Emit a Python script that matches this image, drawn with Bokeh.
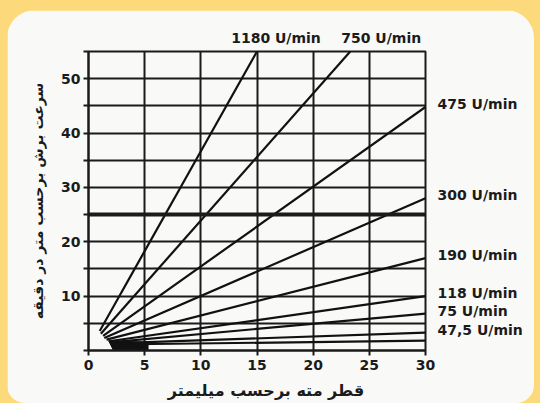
from bokeh.plotting import figure
from bokeh.layouts import column
from bokeh.models import (ColumnDataSource, FixedTicker, Span, LinearAxis)
from bokeh.embed import file_html
from bokeh.resources import INLINE

# ---- data ----
rpm_labels = ["1180 U/min", "750 U/min", "475 U/min", "300 U/min", "190 U/min",
              "118 U/min", "75 U/min", "47,5 U/min", ""]
x_start = [1.0, 1.1, 1.3, 1.4, 1.6, 1.8, 1.9, 2.0, 2.1]
y_start = [3.6, 3.1, 2.7, 2.3, 2.0, 1.7, 1.5, 1.3, 1.1]
x_end = [15.0, 23.3, 30.0, 30.0, 30.0, 30.0, 30.0, 30.0, 30.0]
y_end = [55.0, 55.0, 44.8, 28.0, 17.0, 10.0, 6.8, 3.3, 1.8]
blob_x = [1.8, 5.3, 5.3, 2.2]
blob_y = [1.8, 1.5, 0.1, 0.1]
x_ticks = [0, 5, 10, 15, 20, 25, 30]
y_ticks = [0, 5, 10, 15, 20, 25, 30, 35, 40, 45, 50, 55]
y_labelled = [10, 20, 30, 40, 50]
x_title = "قطر مته برحسب میلیمتر"
y_title = "سرعت برش برحسب متر در دقیقه"

INK = "#1b1b1b"
YELLOW = "#FCDA7C"
PANEL = "#F9F9F8"
FONT = "DejaVu Sans"

FRAME_W, FRAME_H = 337, 299
p = figure(width=527, height=393, x_range=(0, 30), y_range=(0, 55),
           output_backend="svg", toolbar_location=None,
           min_border_left=81, min_border_right=109,
           min_border_top=41, min_border_bottom=53)
p.styles = {"border-radius": "28px 28px 18px 18px", "overflow": "hidden"}
p.border_fill_color = PANEL
p.background_fill_color = PANEL
p.outline_line_color = INK
p.outline_line_width = 2

px_x = FRAME_W / 30.0   # pixels per data unit
px_y = FRAME_H / 55.0

def style_text_axis(ax, size="14px"):
    ax.axis_line_color = None
    ax.major_tick_line_color = None
    ax.minor_tick_line_color = None
    ax.major_tick_out = 0
    ax.major_tick_in = 0
    ax.major_label_text_font = FONT
    ax.major_label_text_font_style = "bold"
    ax.major_label_text_font_size = size
    ax.major_label_text_color = INK

# main axes
p.xaxis.ticker = FixedTicker(ticks=x_ticks)
p.yaxis.ticker = FixedTicker(ticks=y_ticks)
p.yaxis.major_label_overrides = {t: (str(t) if t in y_labelled else "") for t in y_ticks}
for ax in (p.xaxis[0], p.yaxis[0]):
    ax.axis_line_color = INK
    ax.axis_line_width = 2
    ax.major_tick_line_color = INK
    ax.major_tick_line_width = 2
    ax.major_tick_in = 0
    ax.major_tick_out = 5
    ax.minor_tick_line_color = None
    ax.major_label_text_font = FONT
    ax.major_label_text_font_style = "bold"
    ax.major_label_text_font_size = "14px"
    ax.major_label_text_color = INK
p.yaxis.major_label_standoff = 3
p.xaxis.major_label_standoff = 4
p.yaxis.axis_label = y_title
p.yaxis.axis_label_text_font = FONT
p.yaxis.axis_label_text_font_style = "bold"
p.yaxis.axis_label_text_font_size = "14px"
p.yaxis.axis_label_text_color = INK
p.yaxis.axis_label_standoff = 12

# grid
p.xgrid.ticker = FixedTicker(ticks=x_ticks)
p.ygrid.ticker = FixedTicker(ticks=y_ticks)
for g in (p.xgrid[0], p.ygrid[0]):
    g.grid_line_color = INK
    g.grid_line_width = 2
    g.grid_line_alpha = 1.0

p.add_layout(Span(location=25, dimension="width", line_color=INK, line_width=4))

# lines
src = ColumnDataSource(dict(x0=x_start, y0=y_start, x1=x_end, y1=y_end))
p.segment(x0="x0", y0="y0", x1="x1", y1="y1", source=src,
          line_color="#111111", line_width=2.2)
p.patch(blob_x, blob_y, fill_color="#111111", line_color="#111111", line_width=1)

# line labels: top ones through an axis above, side ones through an axis on the right
top_shift = [19, 31]     # px to the right of the line end
top_pos, top_lab = [], []
right_pos, right_lab = [], []
for i, lab in enumerate(rpm_labels):
    if not lab:
        continue
    if y_end[i] >= 55:
        top_pos.append(x_end[i] + top_shift[len(top_pos)] / px_x)
        top_lab.append(lab)
    else:
        right_pos.append(y_end[i] + 3 / px_y)
        right_lab.append(lab)

top_axis = LinearAxis(ticker=FixedTicker(ticks=top_pos),
                      major_label_overrides={v: t for v, t in zip(top_pos, top_lab)})
style_text_axis(top_axis)
top_axis.major_label_standoff = 6
p.add_layout(top_axis, "above")

right_axis = LinearAxis(ticker=FixedTicker(ticks=right_pos),
                        major_label_overrides={v: t for v, t in zip(right_pos, right_lab)})
style_text_axis(right_axis)
right_axis.major_label_standoff = 12
p.add_layout(right_axis, "right")

# x title: a second axis below, carrying one label placed right of centre
title_pos = [15 + 9 / px_x]
title_axis = LinearAxis(ticker=FixedTicker(ticks=title_pos),
                        major_label_overrides={title_pos[0]: x_title})
style_text_axis(title_axis, "16px")
title_axis.major_label_standoff = 8
p.add_layout(title_axis, "below")

outer = column(p, styles={"background-color": YELLOW,
                          "padding": "10px 6px 0px 7px"})

open("out.html", "w").write(file_html(outer, INLINE))
